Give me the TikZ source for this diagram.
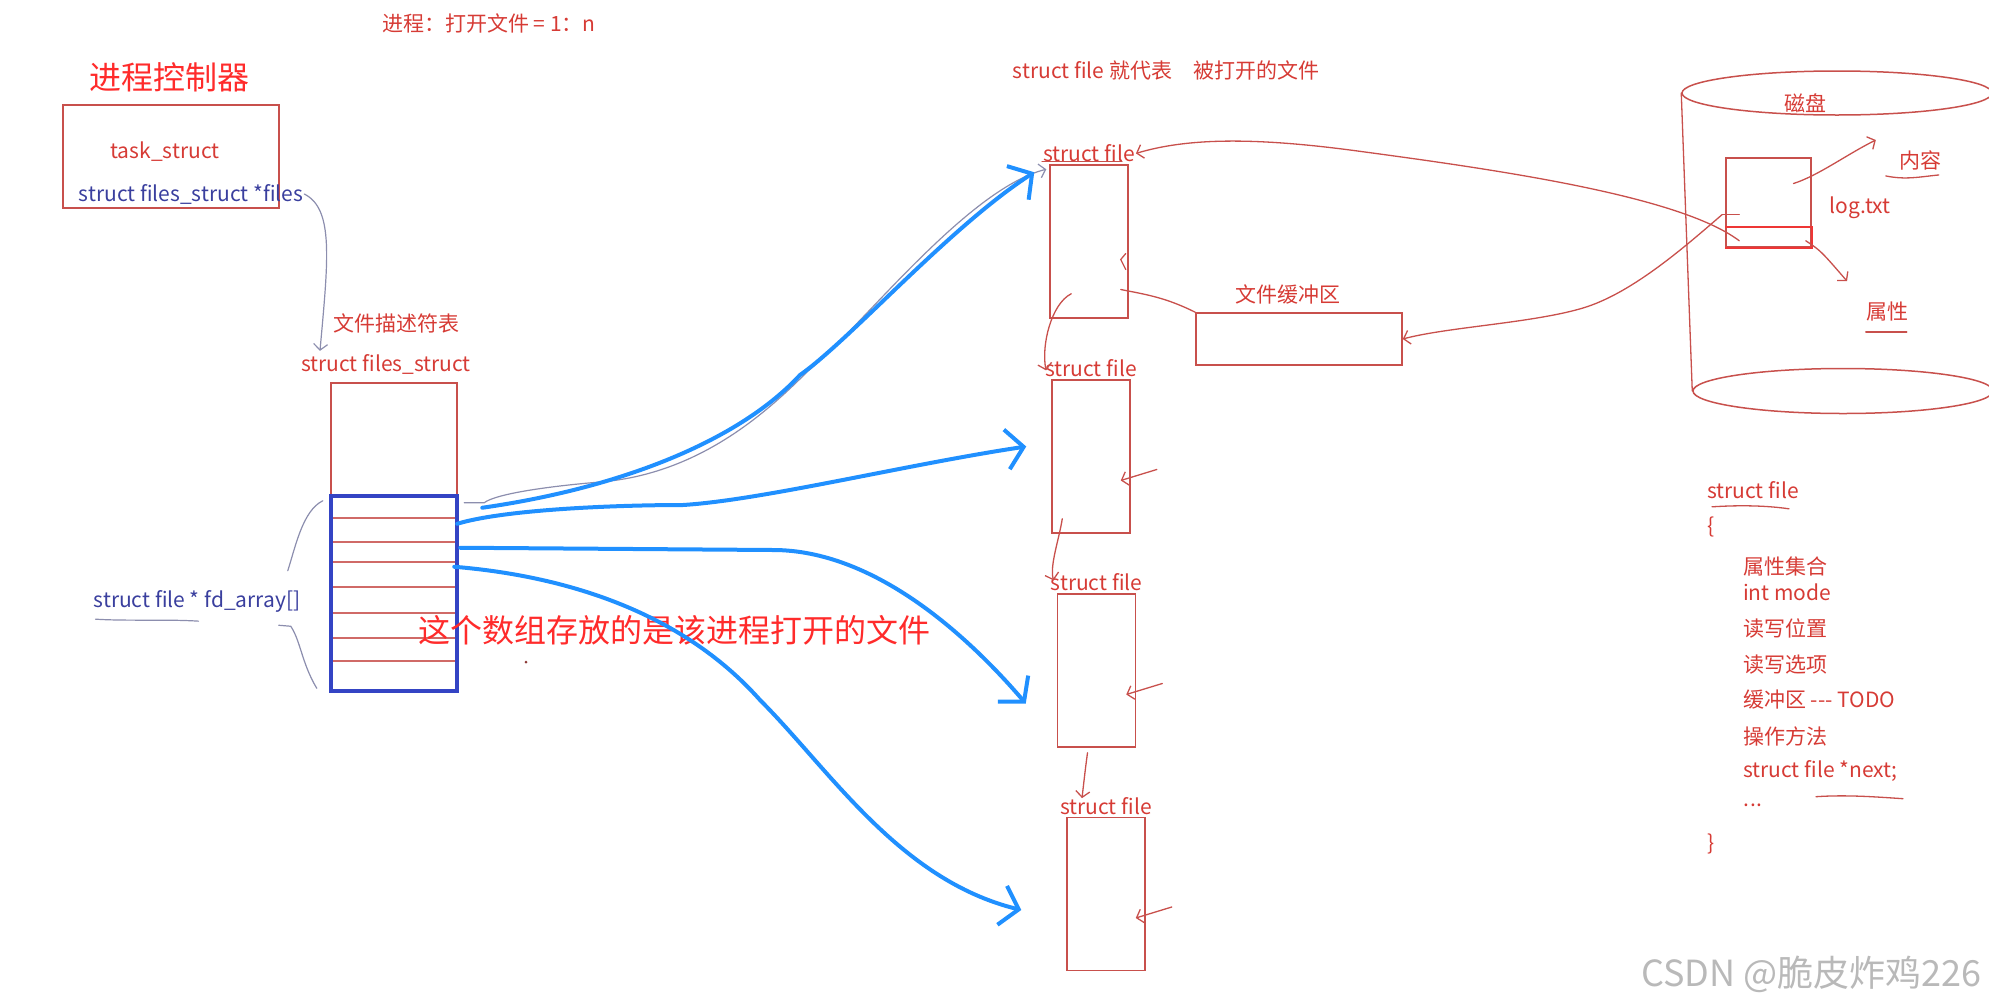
\documentclass[tikz,border=0pt]{standalone}
\usepackage{fontspec}
\newfontfamily\cjk{Noto Sans CJK SC}
\usetikzlibrary{arrows.meta, calc, positioning, shapes.geometric}
\definecolor{penRed}{HTML}{C8504C}
\definecolor{textRed}{HTML}{D63B35}
\definecolor{hotRed}{HTML}{FF2B2B}
\definecolor{inkBlue}{HTML}{3A3F9E}
\definecolor{markerBlue}{HTML}{2090FF}
\definecolor{frameBlue}{HTML}{3444C4}
\definecolor{pencilGray}{HTML}{8C8EAE}

\begin{document}
\begin{tikzpicture}[x=1pt, y=-1pt,
    note/.style={font=\cjk\fontsize{21}{25}\selectfont, text=textRed, inner sep=1pt},
    bluenote/.style={note, text=inkBlue},
    bignote/.style={font=\cjk\fontsize{32}{38}\selectfont, text=hotRed, inner sep=1pt},
    redbox/.style={draw=penRed, line width=1.5pt, inner sep=0pt},
    fdbox/.style={draw=frameBlue, line width=4.5pt, inner sep=0pt},
    rowline/.style={draw=penRed!85, line width=1.5pt, shorten >=2pt, shorten <=2pt},
    redpen/.style={draw=penRed, line width=1.3pt, line cap=round},
    pencil/.style={draw=pencilGray, line width=1.2pt, line cap=round},
    marker/.style={draw=markerBlue, line width=4pt, line cap=round, line join=round,
        -{Straight Barb[length=17pt, width=40pt]}},
    thintip/.style={-{Straight Barb[length=6pt, width=14pt]}}]
\useasboundingbox (0,0) rectangle (1989,1007);
\clip (0,0) rectangle (1989,1007);

% process side
\node[note] (ratio) at (489,23) {进程：打开文件 = 1：n};
\node[bignote] (pcb) at (169,77) {进程控制器};
\node[redbox, minimum width=216pt, minimum height=103pt] (task) at (171,156.5) {};
\node[note] (taskname) at (165,152) {task\_struct};
\node[bluenote] (filesptr) at (191,194) {struct files\_struct *files};
\node[note] (fdtname) at (396,323) {文件描述符表};
\node[note] (fstname) at (386,364) {struct files\_struct};
\node[redbox, minimum width=126pt, minimum height=308pt] (fst) at (394,537) {};
\foreach \y in {518,542,562,587,613,638,661}
    \draw[rowline] (fst.west |- 0,\y) -- (fst.east |- 0,\y);
\node[fdbox, minimum width=126pt, minimum height=195pt] (fdarr) at (394,593.5) {};
\draw[pencil, thintip] (filesptr.east) .. controls +(30,15) and +(8,-90) .. ($(fstname.north west)+(20,-2)$);

% brace and array name
\draw[pencil] ($(fdarr.north west)+(-6,7)$) .. controls +(-20,10) and +(8,-25) .. ($(fdarr.north west)+(-41,77)$);
\draw[pencil] ($(fdarr.south west)+(-50,-68)$) -- +(12,1) .. controls +(10,15) and +(-15,-25) .. ($(fdarr.south west)+(-12,-5)$);
\node[bluenote] (fdname) at (197,601) {struct file * fd\_array[]};
\draw[pencil] ($(fdname.south west)+(3,6)$) .. controls +(30,2) and +(-30,-2) .. ($(fdname.south west)+(106,8)$);
\node[bignote] (arrnote) at (674,630) {这个数组存放的是该进程打开的文件};
\fill[penRed!70!black] (526,662) circle (1.5pt);

% opened files
\node[note] (meaning) at (1166,70) {struct file 就代表\quad 被打开的文件};
\foreach \i/\x/\y in {1/1089/241.5, 2/1091/456.5, 3/1096.5/670.5, 4/1106/894} {
    \node[redbox, minimum width=78pt, minimum height=153pt] (file\i) at (\x,\y) {};
    \node[note, above=1pt of file\i] (fname\i) {struct file};
}
\draw[redpen] ($(fname1.south west)+(0,-2)$) -- ($(fname1.south east)+(-14,-2)$);
\foreach \i in {2,3,4}
    \draw[redpen, thintip] ($(file\i.east)+(26,13)$) -- ($(file\i.east)+(-10,24)$);
\draw[redpen] ($(file1.east)+(-3,12)$) -- +(-5,6) -- +(0,16);
\draw[redpen, thintip] ($(file1.south west)+(22,-25)$) .. controls +(-20,10) and +(-5,-25) .. ($(fname2.west)+(2,2)$);
\draw[redpen, thintip] ($(file2.south west)+(11,-15)$) .. controls +(-3,20) and +(-4,-15) .. ($(fname3.west)+(4,-2)$);
\draw[redpen, thintip] ($(file3.south)+(-9,5)$) .. controls +(-2,15) .. ($(fname4.north)+(-24,2)$);

% file buffer
\node[redbox, minimum width=206pt, minimum height=52pt] (buffer) at (1299,339) {};
\node[note] (bufname) at (1288,294) {文件缓冲区};
\draw[redpen] ($(file1.east)+(-8,48)$) .. controls +(25,5) and +(-30,-15) .. (buffer.north west);

% disk
\node[redbox, ellipse, minimum width=310pt, minimum height=44pt] (disktop) at (1837,93) {};
\node[redbox, ellipse, minimum width=300pt, minimum height=45pt] (diskbot) at (1843,391) {};
\draw[redpen] (disktop.west) -- (diskbot.west);
\draw[redpen] (disktop.east) -- (diskbot.east);
\node[note] (diskname) at (1805,103) {磁盘};
\node[redbox, minimum width=85pt, minimum height=89pt] (logfile) at (1768.5,202.5) {};
\draw[draw=hotRed!70!penRed, line width=2.2pt] (logfile.west |- 0,227) -- (logfile.east |- 0,227) -- (logfile.south east) -- (logfile.south west);
\node[note] (logname) at (1860,208) {log.txt};
\node[note] (content) at (1920,160) {内容};
\node[note] (attr) at (1887,312) {属性};
\draw[redpen] ($(content.south west)+(-12,5)$) .. controls +(20,4) and +(-20,2) .. ($(content.south west)+(41,4)$);
\draw[redpen] ($(attr.south west)+(1,9)$) -- ($(attr.south west)+(42,9)$);
\draw[redpen, thintip] ($(logfile.center)+(25,-19)$) .. controls +(25,-8) and +(-30,15) .. ($(content.west)+(-22,-20)$);
\draw[redpen, thintip] ($(logfile.south east)+(-6,-7)$) .. controls +(15,10) .. ($(attr.north)+(-40,-20)$);

% links between disk, buffer and file
\coordinate (aMid) at (1350,150);
\coordinate (bMid) at (1583,308);
\draw[redpen, thintip] ($(logfile.south west)+(14,-7)$) .. controls +(-60,-45) and +(150,20) .. (aMid)
    .. controls +(-100,-13) and +(50,-15) .. (fname1.east);
\draw[redpen] ($(logfile.west)+(14,12)$) -- ($(logfile.west)+(-3,12)$);
\draw[redpen, thintip] ($(logfile.west)+(-3,12)$) .. controls +(-35,30) and +(50,-15) .. (bMid)
    .. controls +(-50,15) and +(45,-12) .. (buffer.east);

% fd_array entries to files
\coordinate (m1) at (800,375);
\coordinate (m2) at (683,505);
\coordinate (m3) at (773,550);
\coordinate (m4) at (760,700);
\draw[pencil, thintip] ($(fdarr.north east)+(5,9)$) -- +(20,0) .. controls +(10,-8) and +(-60,5) .. (600,482)
    .. controls +(100,-8) and +(-40,40) .. ($(m1)+(8,-4)$) .. controls +(50,-40) and +(-80,20) .. ($(file1.north west)+(-3,5)$);
\draw[marker] ($(fdarr.north east)+(23,14)$) .. controls +(140,-20) and +(-60,65) .. (m1)
    .. controls +(50,-35) and +(-85,55) .. ($(file1.north west)+(-15,8)$);
\draw[marker] ($(fdarr.north east)+(-2,30)$) .. controls +(50,-15) and +(-60,0) .. (m2)
    .. controls +(80,-5) and +(-120,18) .. ($(file2.west)+(-25,-10)$);
\draw[marker] ($(fdarr.north east)+(1,54)$) -- (m3)
    .. controls +(100,0) and +(-60,-70) .. ($(file3.west)+(-31,33)$);
\draw[marker] ($(fdarr.north east)+(-5,73)$) .. controls +(108,9) and +(-80,-90) .. (m4)
    .. controls +(70,70) and +(-122,-30) .. ($(file4.west)+(-45,16)$);

% struct file definition
\node[note, anchor=west] (defname) at (1706,490) {struct file};
\draw[redpen] ($(defname.south west)+(6,7)$) .. controls +(30,-2) and +(-20,-3) .. ($(defname.south west)+(83,9)$);
\node[note, anchor=west] (lbrace) at (1706,527) {\{};
\foreach \n/\y/\txt in {1/566/属性集合, 2/592/int mode, 3/628/读写位置, 4/665/读写选项,
        5/700/缓冲区 -{}-{}- TODO, 6/736/操作方法, 7/771/struct file *next;}
    \node[note, anchor=west] (member\n) at (1742,\y) {\txt};
\node[note, anchor=west] (member8) at (1742,805) {.\kern1pt.\kern1pt.};
\node[note, anchor=west] (rbrace) at (1706,844) {\}};
\draw[redpen] ($(member7.south west)+(74,14)$) .. controls +(30,-2) and +(-30,-2) .. ($(member7.south west)+(161,16)$);

\node[anchor=east, font=\cjk\fontsize{36}{42}\selectfont, text=gray!55] (mark) at (1985,974) {CSDN @脆皮炸鸡226};
\end{tikzpicture}
\end{document}
